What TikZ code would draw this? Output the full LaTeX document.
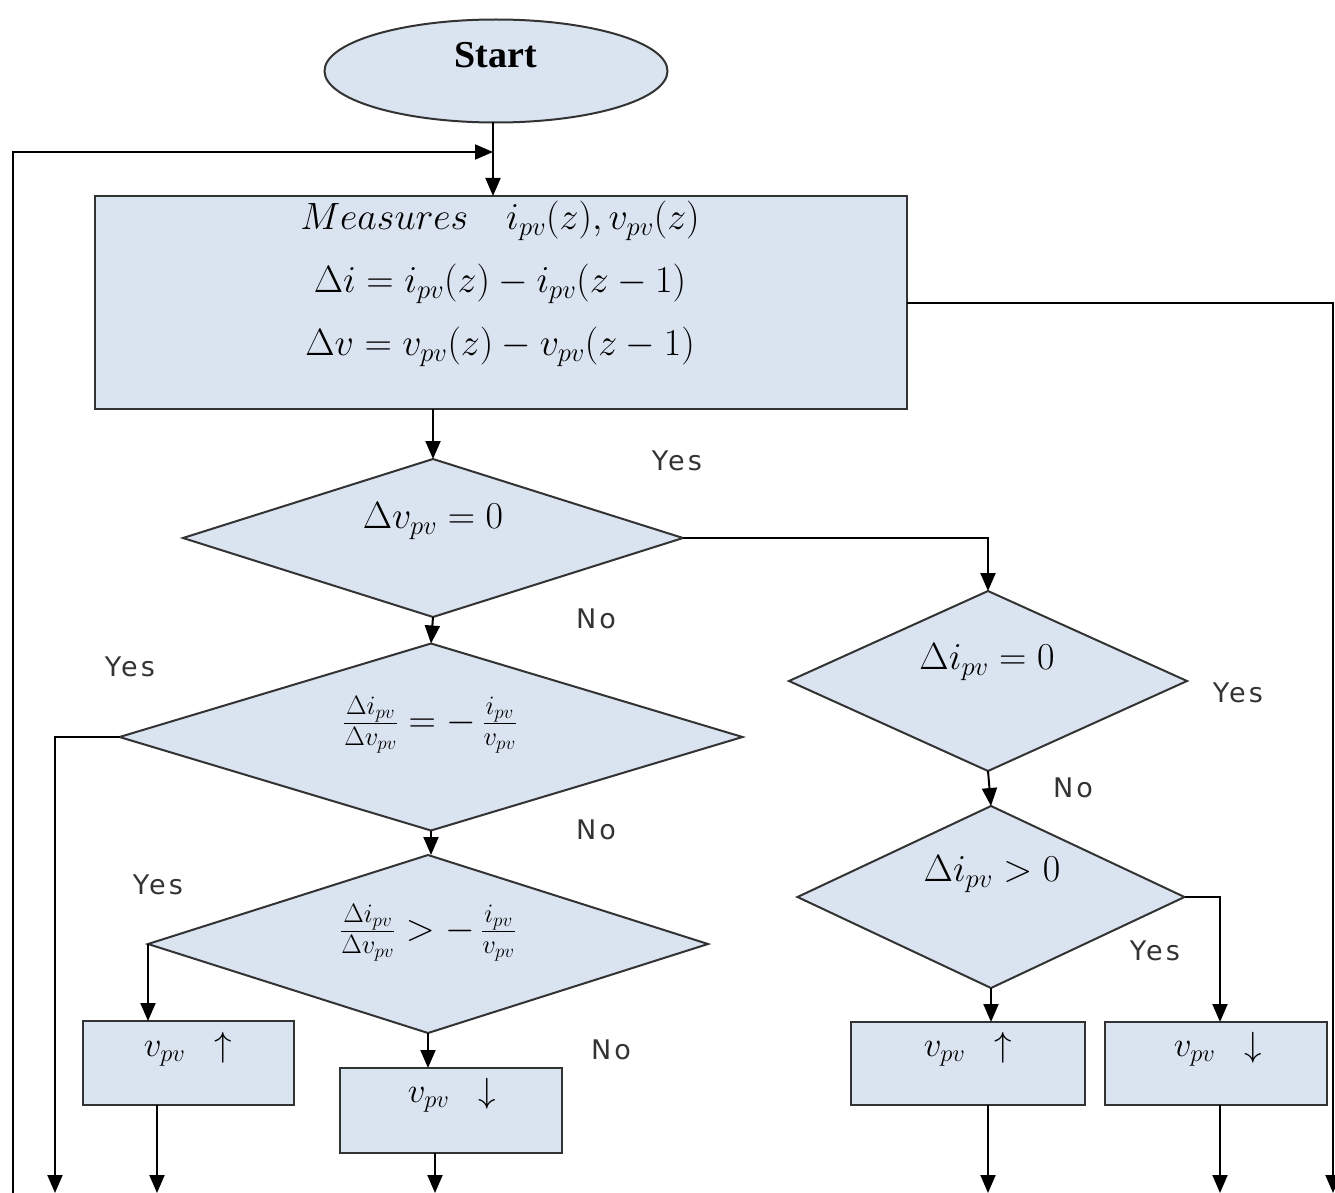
\documentclass[tikz,border=0pt]{standalone}
\usepackage{fix-cm}
\usepackage[no-math]{fontspec}
\setmainfont{Liberation Serif}
\newfontfamily\lblfont{DejaVu Sans}[LetterSpace=12]
\usetikzlibrary{shapes.geometric,arrows.meta}
\definecolor{boxfill}{HTML}{DAE3F0}
\definecolor{edge}{HTML}{333333}
\begin{document}
\begin{tikzpicture}[x=1pt,y=-1pt,
  every node/.style={inner sep=0pt,outer sep=0pt},
  shp/.style={draw=edge,fill=boxfill,line width=2pt},
  dia/.style={shp,diamond},
  proc/.style={shp,rectangle},
  conn/.style={line width=2pt,draw=black},
  arr/.style={conn,-{Triangle[length=18pt,width=15pt]}},
  mth/.style={font=\fontsize{38}{44}\selectfont},
  mths/.style={font=\fontsize{35}{40}\selectfont},
  lbl/.style={font=\lblfont\fontsize{27}{32}\selectfont,text=edge},
]
\useasboundingbox (0,0) rectangle (1335,1193);

% shapes
\node[shp,ellipse,minimum width=343pt,minimum height=103pt] (start) at (496,71) {};
\node[proc,minimum width=812pt,minimum height=213pt] (meas) at (501,302.5) {};
\node[dia,minimum width=500pt,minimum height=158pt] (d1) at (433,538) {};
\node[dia,minimum width=623pt,minimum height=187pt] (d3) at (431,737) {};
\node[dia,minimum width=560pt,minimum height=178pt] (d4) at (428,944) {};
\node[dia,minimum width=398pt,minimum height=180pt] (d2) at (988,681) {};
\node[dia,minimum width=387pt,minimum height=182pt] (d5) at (991,897) {};
\node[proc,minimum width=211pt,minimum height=84pt] (b1) at (188.5,1063) {};
\node[proc,minimum width=222pt,minimum height=85pt] (b2) at (451,1110.5) {};
\node[proc,minimum width=234pt,minimum height=83pt] (b3) at (968,1063.5) {};
\node[proc,minimum width=222pt,minimum height=83pt] (b4) at (1216,1063.5) {};

% texts
\node[font=\bfseries\fontsize{38}{44}\selectfont] (starttxt) at (496,55) {Start};
\node[mth] (m1) at (500,221) {$Measures\quad i_{pv}(z), v_{pv}(z)$};
\node[mth] (m2) at (500,284) {$\Delta i = i_{pv}(z) - i_{pv}(z-1)$};
\node[mth] (m3) at (500,347) {$\Delta v = v_{pv}(z) - v_{pv}(z-1)$};
\node[mth] (t1) at (433,521) {$\Delta v_{pv} = 0$};
\node[mth] (t3) at (430,725) {$\frac{\Delta i_{pv}}{\Delta v_{pv}} = -\,\frac{i_{pv}}{v_{pv}}$};
\node[mth] (t4) at (428,933) {$\frac{\Delta i_{pv}}{\Delta v_{pv}} > -\,\frac{i_{pv}}{v_{pv}}$};
\node[mth] (t2) at (987,662) {$\Delta i_{pv} = 0$};
\node[mth] (t5) at (992,874) {$\Delta i_{pv} > 0$};
\node[mths] (tb1) at (188,1049) {$v_{pv}\;\;\uparrow$};
\node[mths] (tb2) at (452,1095) {$v_{pv}\;\;\downarrow$};
\node[mths] (tb3) at (968,1049) {$v_{pv}\;\;\uparrow$};
\node[mths] (tb4) at (1218,1049) {$v_{pv}\;\;\downarrow$};

% labels
\node[lbl] (yes1) at (677,461) {Yes};
\node[lbl] (no1) at (596,619) {No};
\node[lbl] (yes3) at (130,667) {Yes};
\node[lbl] (no3) at (596,830) {No};
\node[lbl] (yes4) at (158,885) {Yes};
\node[lbl] (no4) at (611,1050) {No};
\node[lbl] (yes2) at (1238,693) {Yes};
\node[lbl] (no2) at (1073,788) {No};
\node[lbl] (yes5) at (1155,951) {Yes};

% coordinates
\coordinate (jn) at (493,152);
\coordinate (lbot) at (13,1193);
\coordinate (rbot) at (1333,1193);
\coordinate (y1bot) at (55,1193);
\coordinate (b1bot) at (157,1193);
\coordinate (b2bot) at (435,1193);
\coordinate (b3bot) at (988,1193);
\coordinate (b4bot) at (1220,1193);
\coordinate (b4in) at (1220,1022);

% connectors
\draw[conn] (start.south -| jn) -- (jn);
\draw[arr] (jn) -- (jn |- meas.north);
\draw[arr] (lbot) |- (jn);
\draw[arr] (meas.east) -| (rbot);
\draw[arr] (meas.south -| d1.north) -- (d1.north);
\draw[arr] (d1.east) -| (d2.north);
\draw[arr] (d1.south) -- (d3.north);
\draw[arr] (d3.west) -| (y1bot);
\draw[arr] (d3.south) -- (d3.south |- d4.north);
\draw[arr] (d4.west) -- (d4.west |- b1.north);
\draw[arr] (d4.south) -- (d4.south |- b2.north);
\draw[arr] (b1.south -| b1bot) -- (b1bot);
\draw[arr] (b2.south -| b2bot) -- (b2bot);
\draw[arr] (d2.south) -- (d5.north);
\draw[arr] (d5.east) -| (b4in);
\draw[arr] (d5.south) -- (d5.south |- b3.north);
\draw[arr] (b3.south -| b3bot) -- (b3bot);
\draw[arr] (b4.south -| b4bot) -- (b4bot);
\end{tikzpicture}
\end{document}
